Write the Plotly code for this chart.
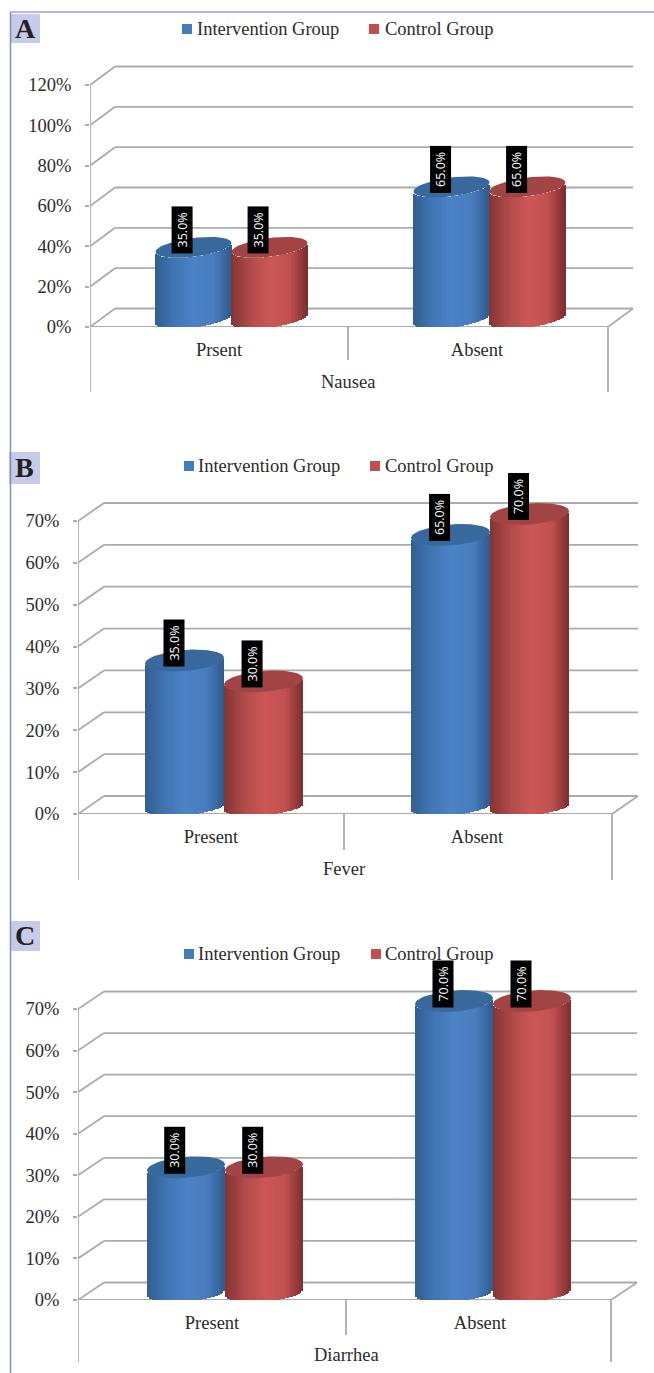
import numpy as np
import plotly.graph_objects as go

WIDTH, HEIGHT = 654, 1373

# Values shown on the charts, in percent
SERIES_NAMES = ["Intervention Group", "Control Group"]
NAUSEA_CATEGORIES = ["Prsent", "Absent"]
NAUSEA_INTERVENTION = [35.0, 65.0]
NAUSEA_CONTROL = [35.0, 65.0]
NAUSEA_TICKS = [0, 20, 40, 60, 80, 100, 120]

FEVER_CATEGORIES = ["Present", "Absent"]
FEVER_INTERVENTION = [35.0, 65.0]
FEVER_CONTROL = [30.0, 70.0]
FEVER_TICKS = [0, 10, 20, 30, 40, 50, 60, 70]

DIARRHEA_CATEGORIES = ["Present", "Absent"]
DIARRHEA_INTERVENTION = [30.0, 70.0]
DIARRHEA_CONTROL = [30.0, 70.0]
DIARRHEA_TICKS = [0, 10, 20, 30, 40, 50, 60, 70]

# Layout of each panel, in page pixels
PANELS = [
    dict(letter="A", title="Nausea", cats=NAUSEA_CATEGORIES, a=NAUSEA_INTERVENTION, b=NAUSEA_CONTROL,
         ticks=NAUSEA_TICKS, left=90, mid=348, right=608, zero=327, top_tick=85, dx=25, dy=18.5,
         bottom=392, div_bottom=360, rx=38, ry=9.5, ry_base=9, tilt=4.5, base=9, title_y=382,
         tag=(10, 14, 40, 43), legend_y=29, swatch=(182, 369), text=(194.5, 382.5)),
    dict(letter="B", title="Fever", cats=FEVER_CATEGORIES, a=FEVER_INTERVENTION, b=FEVER_CONTROL,
         ticks=FEVER_TICKS, left=78, mid=344, right=612, zero=814, top_tick=521, dx=26, dy=18,
         bottom=880, div_bottom=850, rx=39.5, ry=10.5, ry_base=8, tilt=3, base=7, title_y=869,
         tag=(9, 452, 40, 484), legend_y=466, swatch=(184, 370), text=(195.5, 382.5)),
    dict(letter="C", title="Diarrhea", cats=DIARRHEA_CATEGORIES, a=DIARRHEA_INTERVENTION, b=DIARRHEA_CONTROL,
         ticks=DIARRHEA_TICKS, left=78, mid=346, right=611, zero=1300, top_tick=1009, dx=26, dy=17.5,
         bottom=1362, div_bottom=1335, rx=39, ry=10.5, ry_base=9, tilt=3, base=8, title_y=1355,
         tag=(10, 921, 40, 951), legend_y=954, swatch=(184, 371), text=(195.5, 382.5)),
]

SERIF = "Liberation Serif"
TEXT = "#2b2b2b"
GRID = "#ababab"
EDGE = "#7f8cc6"
SWATCHES = ["#3f7dbd", "#c0504d"]
CAPS = ["#37699c", "#a34444"]
# Horizontal shading across a cylinder: position (-1..1) against RGB
SHADES = [
    [(-1.0, (50, 94, 146)), (-0.5, (64, 116, 178)), (0.0, (76, 131, 198)), (0.55, (72, 125, 190)), (1.0, (48, 92, 142))],
    [(-1.0, (130, 52, 52)), (-0.45, (178, 76, 74)), (0.05, (204, 88, 86)), (0.55, (192, 80, 78)), (1.0, (125, 46, 48))],
]
N_STRIPS = 44


def shade(stops, u):
    pos = [s[0] for s in stops]
    rgb = [np.interp(u, pos, [s[1][i] for s in stops]) for i in range(3)]
    return "rgb({:.0f},{:.0f},{:.0f})".format(*rgb)


def py(p):
    return 1 - p / HEIGHT


fig = go.Figure()
shapes, annotations, axes = [], [], {}

for idx, p in enumerate(PANELS):
    suffix = "" if idx == 0 else str(idx + 1)
    xname, yname = f"x{suffix}", f"y{suffix}"

    px_per_pct = (p["zero"] - p["top_tick"]) / max(p["ticks"])
    unit = p["mid"] - p["left"]  # width of one category band in pixels
    plot_right = p["right"] + p["dx"] + 2
    plot_top = p["top_tick"] - p["dy"] - 2

    axes[f"xaxis{suffix}"] = dict(
        domain=[p["left"] / WIDTH, plot_right / WIDTH],
        range=[-0.5, -0.5 + (plot_right - p["left"]) / unit],
        anchor=yname, tickmode="array", tickvals=[0, 1], ticktext=p["cats"],
        ticks="", ticklabelstandoff=9, showgrid=False, zeroline=False, showline=False,
        automargin=False, tickfont=dict(family=SERIF, size=18.5, color=TEXT),
    )
    axes[f"yaxis{suffix}"] = dict(
        domain=[py(p["zero"]), py(plot_top)],
        range=[0, (p["zero"] - plot_top) / px_per_pct],
        anchor=xname, tickmode="array", tickvals=p["ticks"],
        ticktext=[f"{t}%" for t in p["ticks"]],
        ticks="outside", ticklen=4, tickcolor=GRID, tickwidth=1.5, ticklabelstandoff=10,
        showgrid=False, zeroline=False, showline=False,
        automargin=False, tickfont=dict(family=SERIF, size=18.5, color=TEXT),
    )

    # Back wall, side wall and floor of the pseudo-3D frame
    ddx = p["dx"] / unit
    ddy = p["dy"] / px_per_pct
    end = -0.5 + (p["right"] - p["left"]) / unit
    line = dict(color=GRID, width=1.8)
    seg = dict(type="line", xref=xname, yref=yname, line=line, layer="below")
    for t in p["ticks"]:
        shapes.append(dict(seg, x0=-0.5, y0=t, x1=-0.5 + ddx, y1=t + ddy))
        shapes.append(dict(seg, x0=-0.5 + ddx, y0=t + ddy, x1=end + ddx, y1=t + ddy))
    shapes.append(dict(seg, x0=-0.5, y0=0, x1=end, y1=0))
    shapes.append(dict(seg, x0=end, y0=0, x1=end + ddx, y1=ddy))
    shapes.append(dict(seg, x0=-0.5, y0=0, x1=-0.5, y1=max(p["ticks"])))

    # Drop lines under the category axis
    for xv, bottom in ((-0.5, p["bottom"]), (0.5, p["div_bottom"]), (end, p["bottom"])):
        shapes.append(dict(type="line", xref=xname, yref="paper", x0=xv, x1=xv,
                           y0=py(p["zero"]), y1=py(bottom), line=line))

    annotations.append(dict(xref=xname, yref="paper", x=0.5, y=py(p["title_y"]), text=p["title"],
                            showarrow=False, xanchor="center", yanchor="middle",
                            font=dict(family=SERIF, size=18.5, color=TEXT)))

    # Cylinders: each one is a run of thin shaded bars plus an elliptical cap
    half = p["rx"] / unit
    shift = (p["dx"] / 2) / unit
    base_c = p["base"] / px_per_pct
    tilt = p["tilt"] / px_per_pct
    ry = p["ry"] / px_per_pct
    ry_base = p["ry_base"] / px_per_pct
    u = (np.arange(N_STRIPS) + 0.5) / N_STRIPS * 2 - 1
    strip_w = 2 * half / N_STRIPS * 1.15
    for s, values in enumerate((p["a"], p["b"])):
        side = -1 if s == 0 else 1
        xs, ys, bases, colors = [], [], [], []
        cap_x, cap_y = [], []
        for c, value in enumerate(values):
            cx = c + shift + side * half
            for ui in u:
                xs.append(cx + half * ui)
                ys.append(value)
                bases.append(base_c + tilt * ui - ry_base * np.sqrt(1 - ui ** 2))
                colors.append(shade(SHADES[s], ui))
            t = np.linspace(0, 2 * np.pi, 61)
            cap_x += list(cx + half * np.cos(t)) + [None]
            cap_y += list(value + base_c + tilt * np.cos(t) + ry * np.sin(t)) + [None]
            annotations.append(dict(
                xref=xname, yref=yname, x=cx, y=value + base_c, xshift=-11, yshift=17,
                text=f"{value:.1f}%", textangle=-90, showarrow=False,
                width=46, height=20, borderpad=0, bgcolor="#000000", align="center",
                font=dict(family="Open Sans", size=12.5, color="#ffffff")))
        fig.add_trace(go.Bar(
            x=xs, y=ys, base=bases, width=strip_w, name=SERIES_NAMES[s],
            marker=dict(color=colors, line=dict(width=0)), xaxis=xname, yaxis=yname,
            showlegend=False, cliponaxis=False))
        fig.add_trace(go.Scatter(
            x=cap_x, y=cap_y, mode="lines", fill="toself", fillcolor=CAPS[s],
            line=dict(width=0, color=CAPS[s]), xaxis=xname, yaxis=yname,
            showlegend=False, hoverinfo="skip", cliponaxis=False))

    # Series key and panel letter
    for s, name in enumerate(SERIES_NAMES):
        x0 = p["swatch"][s]
        shapes.append(dict(type="rect", xref="paper", yref="paper", x0=x0 / WIDTH, x1=(x0 + 10) / WIDTH,
                           y0=py(p["legend_y"] + 5), y1=py(p["legend_y"] - 5),
                           fillcolor=SWATCHES[s], line=dict(width=0)))
        annotations.insert(0, dict(xref="paper", yref="paper", x=p["text"][s] / WIDTH, y=py(p["legend_y"]),
                                   text=name, showarrow=False, xanchor="left", yanchor="middle",
                                   font=dict(family=SERIF, size=18.5, color=TEXT)))
    x0, y0, x1, y1 = p["tag"]
    shapes.append(dict(type="rect", xref="paper", yref="paper", x0=x0 / WIDTH, x1=x1 / WIDTH,
                       y0=py(y1), y1=py(y0), fillcolor="#c6cbe9", line=dict(width=0)))
    annotations.append(dict(xref="paper", yref="paper", x=(x0 + x1) / 2 / WIDTH, y=py((y0 + y1) / 2),
                            text=f"<b>{p['letter']}</b>", showarrow=False, xanchor="center", yanchor="middle",
                            font=dict(family=SERIF, size=28, color="#222222")))

# Page rule along the left and top edges
shapes.append(dict(type="line", xref="paper", yref="paper", x0=10.5 / WIDTH, x1=10.5 / WIDTH,
                   y0=0, y1=py(12), line=dict(color=EDGE, width=1.5)))
shapes.append(dict(type="line", xref="paper", yref="paper", x0=10.5 / WIDTH, x1=1,
                   y0=py(12), y1=py(12), line=dict(color="#6a78b4", width=1.2)))

fig.update_layout(
    template=None,
    width=WIDTH, height=HEIGHT, autosize=False,
    margin=dict(l=0, r=0, t=0, b=0),
    paper_bgcolor="white", plot_bgcolor="rgba(0,0,0,0)",
    barmode="overlay", bargap=0, showlegend=False,
    shapes=shapes, annotations=annotations, **axes,
)

fig.write_html("out.html", config=dict(displayModeBar=False))
